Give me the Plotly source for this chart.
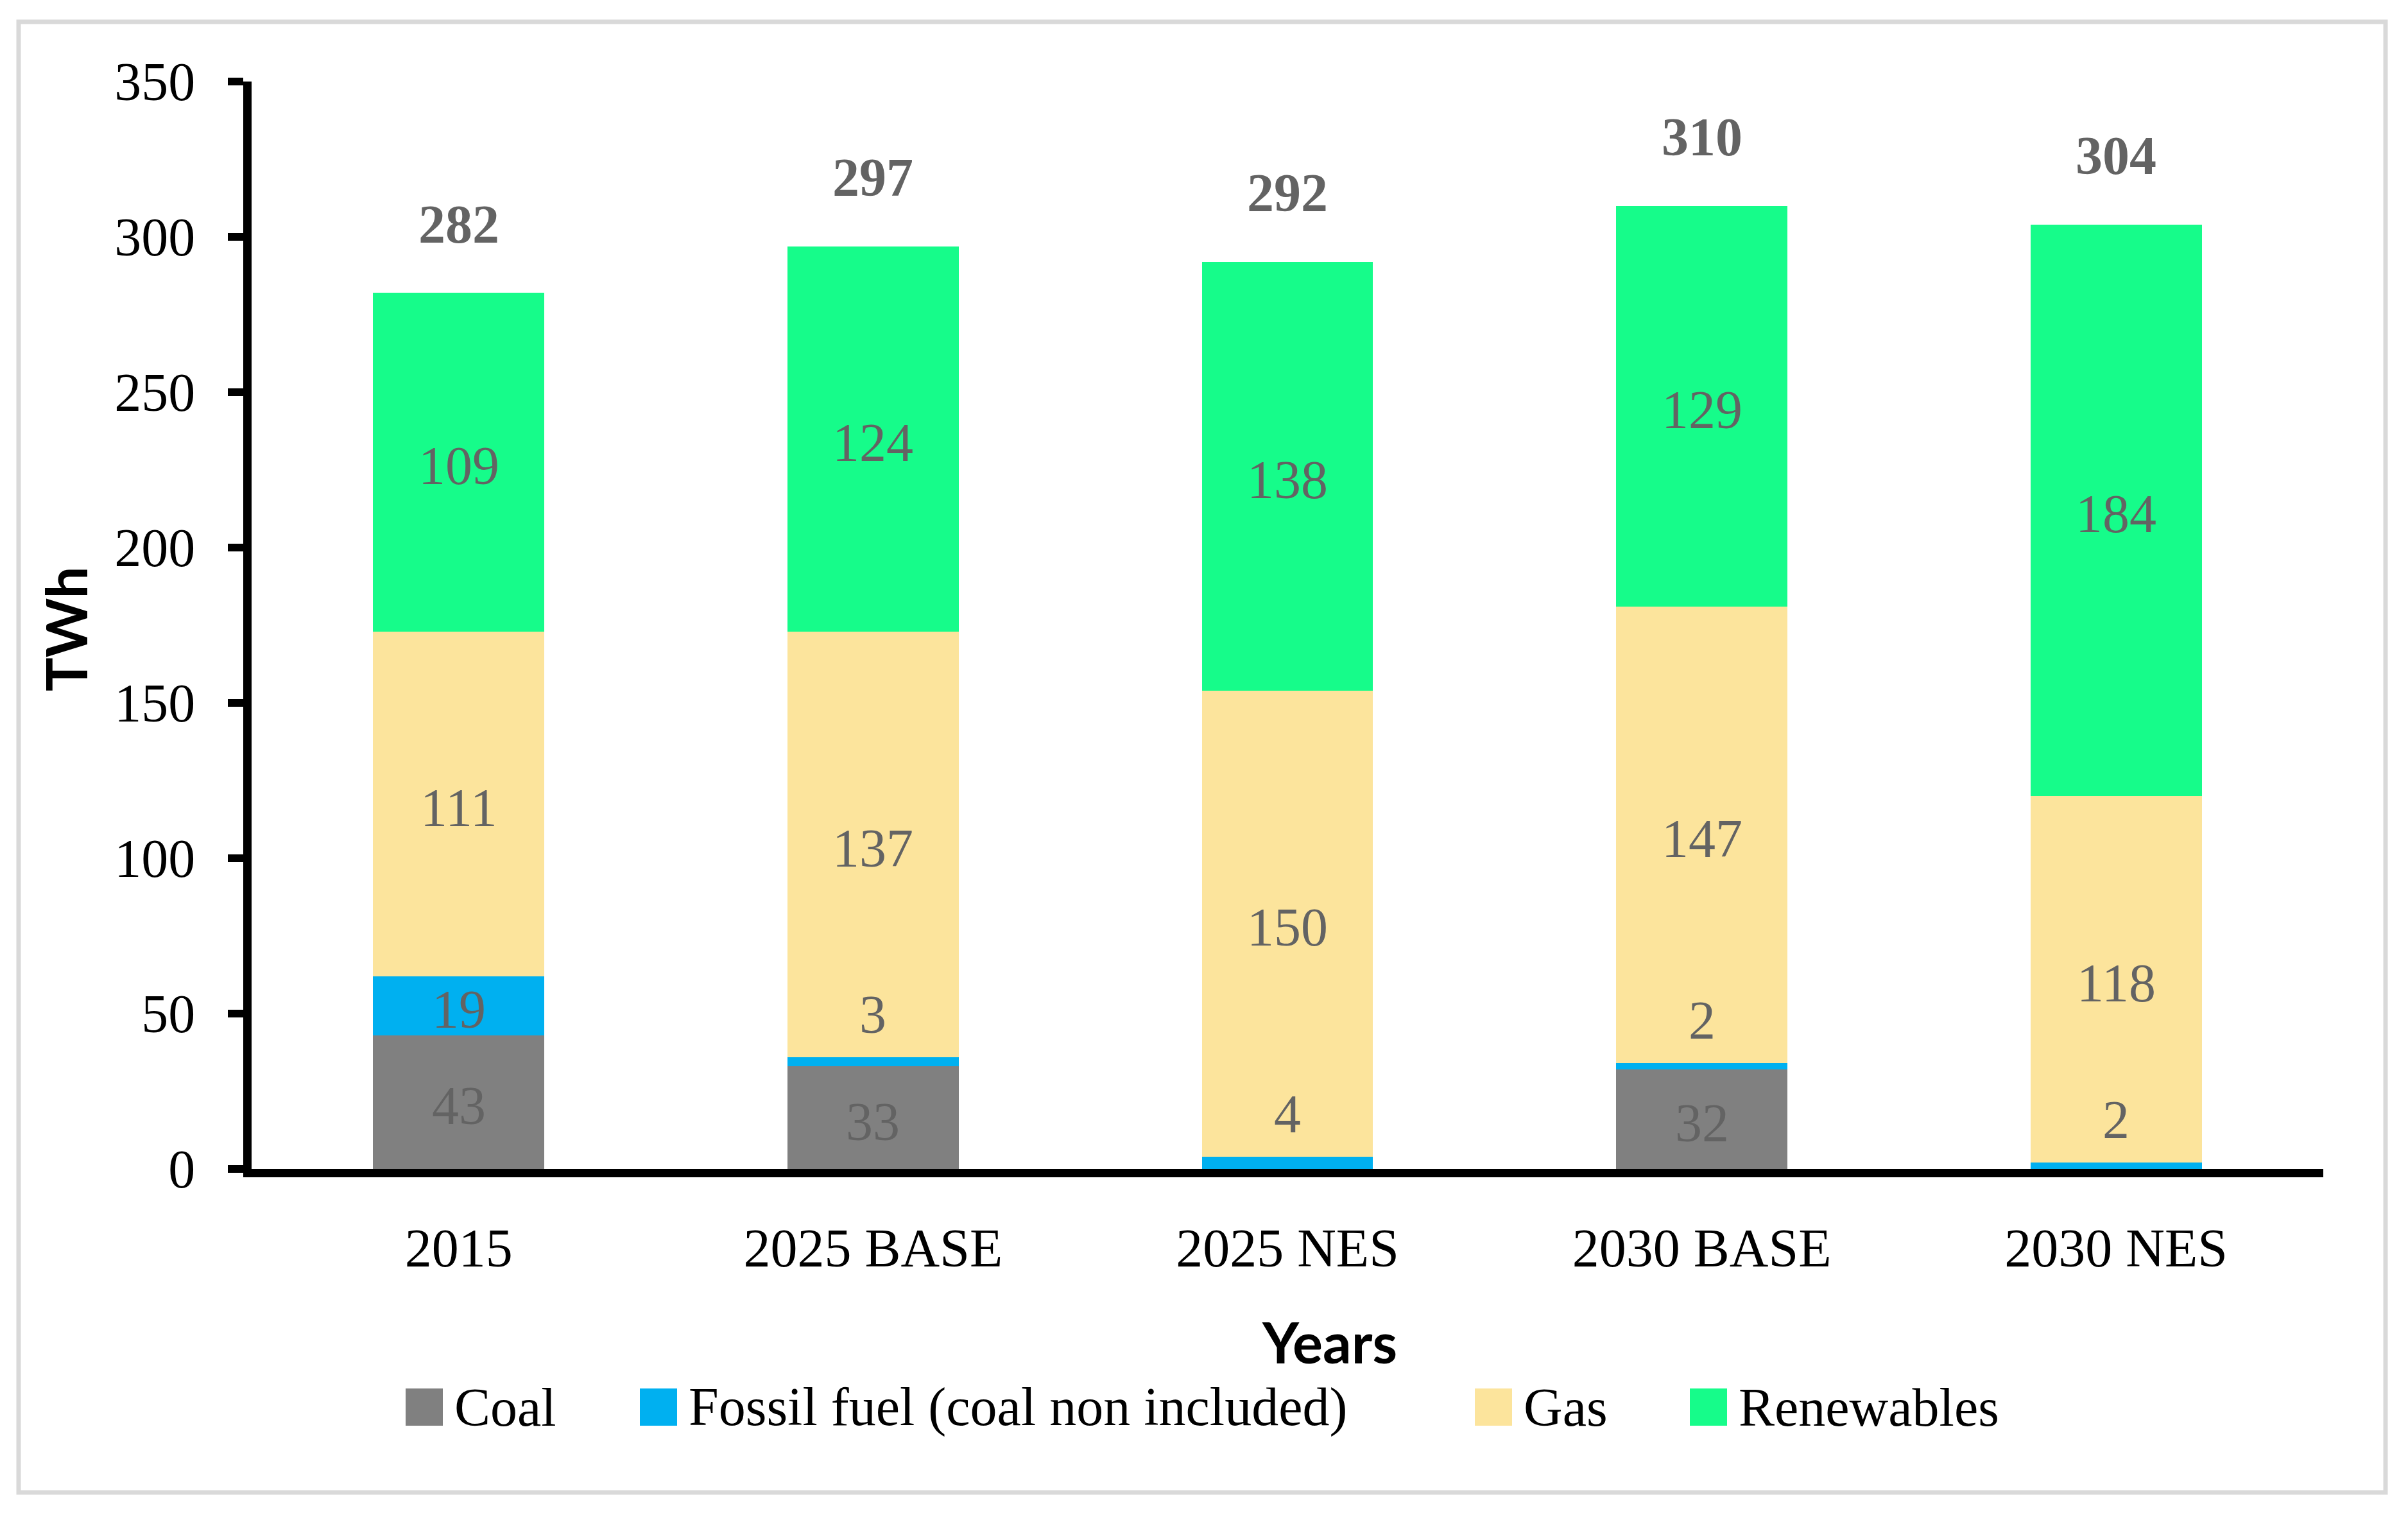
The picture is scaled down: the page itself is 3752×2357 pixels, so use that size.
import plotly.graph_objects as go

# ---- data ----
categories = ["2015", "2025 BASE", "2025 NES", "2030 BASE", "2030 NES"]
coal = [43, 33, 0, 32, 0]
fossil = [19, 3, 4, 2, 2]
gas = [111, 137, 150, 147, 118]
renewables = [109, 124, 138, 129, 184]
totals = [282, 297, 292, 310, 304]
y_ticks = [0, 50, 100, 150, 200, 250, 300, 350]

series_names = ["Coal", "Fossil fuel (coal non included)", "Gas", "Renewables"]
series_values = [coal, fossil, gas, renewables]
series_colors = ["#808080", "#00B0F0", "#FCE49C", "#16FC8A"]

# ---- style ----
PAGE_OFF = 8                      # default body margin of the html page
W, H = 3736, 2341                 # figure size (fits inside the window with margins)
PLOT_L, PLOT_R, PLOT_T, PLOT_B = 392, 3620, 127, 1821   # plot area, page pixels
L = PLOT_L - PAGE_OFF
T = PLOT_T - PAGE_OFF
R = W - (PLOT_R - PAGE_OFF)
B = H - (PLOT_B - PAGE_OFF)
SERIF = "Liberation Serif"
SANS = "Lato"
LABEL_COLOR = "#636363"
FS = 84
SMALL_SEG = 10        # segments thinner than this get their label placed above
SMALL_OFFSET = 15     # data-unit offset of such labels above the segment top
LABEL_SHIFT = -6      # pixel nudge of the segment labels
TOTAL_SHIFT = 107     # pixel offset of totals above bar tops

pw = W - L - R
ph = H - T - B


def px(x):
    """page pixel x -> paper coordinate"""
    return (x - PLOT_L) / pw


def py(y):
    """page pixel y -> paper coordinate"""
    return (PLOT_B - y) / ph


fig = go.Figure()

bases = [0] * len(categories)
for name, vals, col in zip(series_names, series_values, series_colors):
    fig.add_trace(go.Bar(
        x=categories, y=vals, name=name,
        marker=dict(color=col, line=dict(width=0)),
        showlegend=False, hovertemplate="%{x}<br>" + name + ": %{y}<extra></extra>",
    ))
    for i, v in enumerate(vals):
        if v > 0:
            ly = bases[i] + v / 2 if v >= SMALL_SEG else bases[i] + v + SMALL_OFFSET
            fig.add_annotation(
                x=i, y=ly, text=str(v), showarrow=False,
                yshift=LABEL_SHIFT, yanchor="middle",
                font=dict(family=SERIF, size=FS, color=LABEL_COLOR),
            )
        bases[i] += v

# totals above the bars (x given as category index)
for i, t in enumerate(totals):
    fig.add_annotation(
        x=i, y=t, text=f"<b>{t}</b>", showarrow=False,
        yshift=TOTAL_SHIFT, yanchor="middle",
        font=dict(family=SERIF, size=FS, color=LABEL_COLOR),
    )

# axis titles
fig.add_annotation(
    xref="paper", yref="paper", x=px(102), y=py(980),
    text="<b>TWh</b>", textangle=-90, showarrow=False,
    xanchor="center", yanchor="middle",
    font=dict(family=SANS, size=88, color="black"),
)
fig.add_annotation(
    xref="paper", yref="paper", x=px(2071), y=py(2090),
    text="<b>Years</b>", showarrow=False,
    xanchor="center", yanchor="middle",
    font=dict(family=SANS, size=88, color="black"),
)

# legend (drawn manually to match the large swatches)
legend_swatch_x = [632, 997, 2298, 2633]
legend_y = 2192
sw = 58
for name, col, sx in zip(series_names, series_colors, legend_swatch_x):
    fig.add_shape(
        type="rect", xref="paper", yref="paper",
        x0=px(sx), x1=px(sx + sw), y0=py(legend_y - sw / 2), y1=py(legend_y + sw / 2),
        fillcolor=col, line=dict(width=0),
    )
    fig.add_annotation(
        xref="paper", yref="paper", x=px(sx + sw + 16), y=py(legend_y),
        text=name, showarrow=False, xanchor="left", yanchor="middle",
        font=dict(family=SERIF, size=FS, color="black"),
    )

# outer border
fig.add_shape(
    type="rect", xref="paper", yref="paper",
    x0=px(29), x1=px(3717), y0=py(34), y1=py(2325),
    line=dict(color="#D9D9D9", width=7), fillcolor="rgba(0,0,0,0)", layer="below",
)

fig.update_layout(
    width=W, height=H,
    margin=dict(l=L, r=R, t=T, b=B),
    barmode="stack", bargap=0.587,
    plot_bgcolor="white", paper_bgcolor="white",
    font=dict(family=SERIF, size=FS, color="black"),
    showlegend=False,
)
fig.update_xaxes(
    type="category", categoryorder="array", categoryarray=categories,
    range=[-0.5, len(categories) - 0.5],
    showline=True, linecolor="black", linewidth=13,
    showgrid=False, ticks="", ticklabelstandoff=38,
    tickfont=dict(family=SERIF, size=FS, color="black"),
)
fig.update_yaxes(
    range=[0, 350], tickvals=y_ticks,
    showline=True, linecolor="black", linewidth=13,
    showgrid=False, zeroline=False,
    ticks="outside", ticklen=24, tickwidth=12, tickcolor="black",
    ticklabelstandoff=34,
    tickfont=dict(family=SERIF, size=FS, color="black"),
)

fig.write_html("out.html")
